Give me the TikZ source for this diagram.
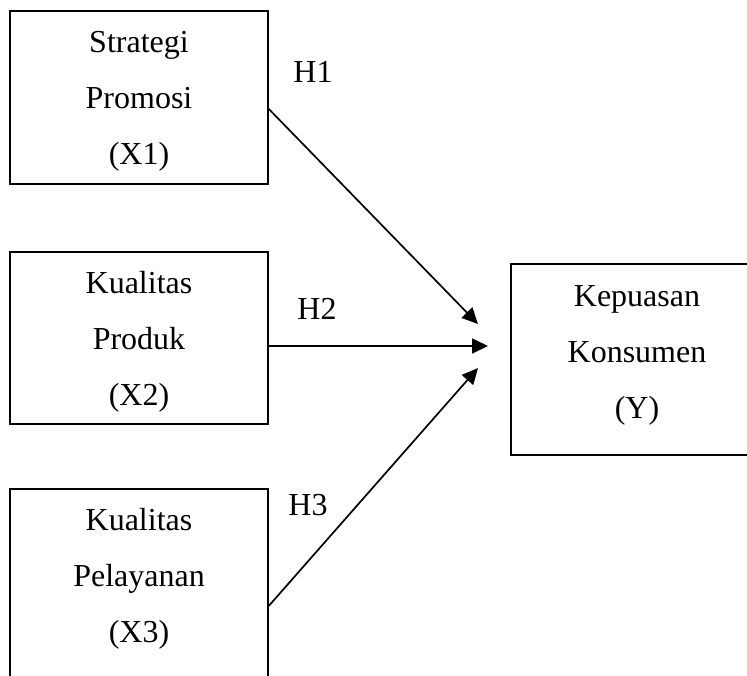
\documentclass[tikz,border=0pt]{standalone}
\usepackage{fontspec}
\setmainfont{Liberation Serif}
\usetikzlibrary{arrows.meta}
\tikzset{
      var/.style={draw=black, line width=0.85, minimum width=129pt, inner sep=0pt},
      vtext/.style={align=center, font=\fontsize{16}{28}\selectfont},
      htext/.style={font=\fontsize{16}{19}\selectfont},
      hyp/.style={draw=black, line width=0.85, -{Triangle[length=8pt,width=7.5pt]}},
}

\begin{document}
\begin{tikzpicture}[x=0.5pt,y=-0.5pt]
        \useasboundingbox (0,0) rectangle (747,675);
        \clip (0,0) rectangle (747,675);

        % Draw the boxes
        \node[var, minimum height=86.5pt] (x1box) at (139,97.5) {};
        \node[var, minimum height=86pt] (x2box) at (139,338) {};
        \node[var, minimum height=100pt, anchor=north] (x3box) at (139,488) {};
        \node[var, minimum height=95.5pt] (ybox) at (640,359.5) {};

        \node[vtext] (x1) at (139,101) {Strategi\\Promosi\\(X1)};
        \node[vtext] (x2) at (139,342) {Kualitas\\Produk\\(X2)};
        \node[vtext] (x3) at (139,579) {Kualitas\\Pelayanan\\(X3)};
        \node[vtext] (y) at (637,355) {Kepuasan\\Konsumen\\(Y)};

        % Draw the hypotheses
        \coordinate (tip1) at (478,324);
        \coordinate (tip2) at (488,346);
        \coordinate (tip3) at (478,368);

        \draw[hyp] ([yshift=-5.75pt]x1box.east) -- (tip1);
        \draw[hyp] ([yshift=-4pt]x2box.east) -- (tip2);
        \draw[hyp] ([yshift=-8.5pt]x3box.east) -- (tip3);

        \node[htext] (h1) at (313,72) {H1};
        \node[htext] (h2) at (317,309) {H2};
        \node[htext] (h3) at (308,505) {H3};

    \end{tikzpicture}
\end{document}
